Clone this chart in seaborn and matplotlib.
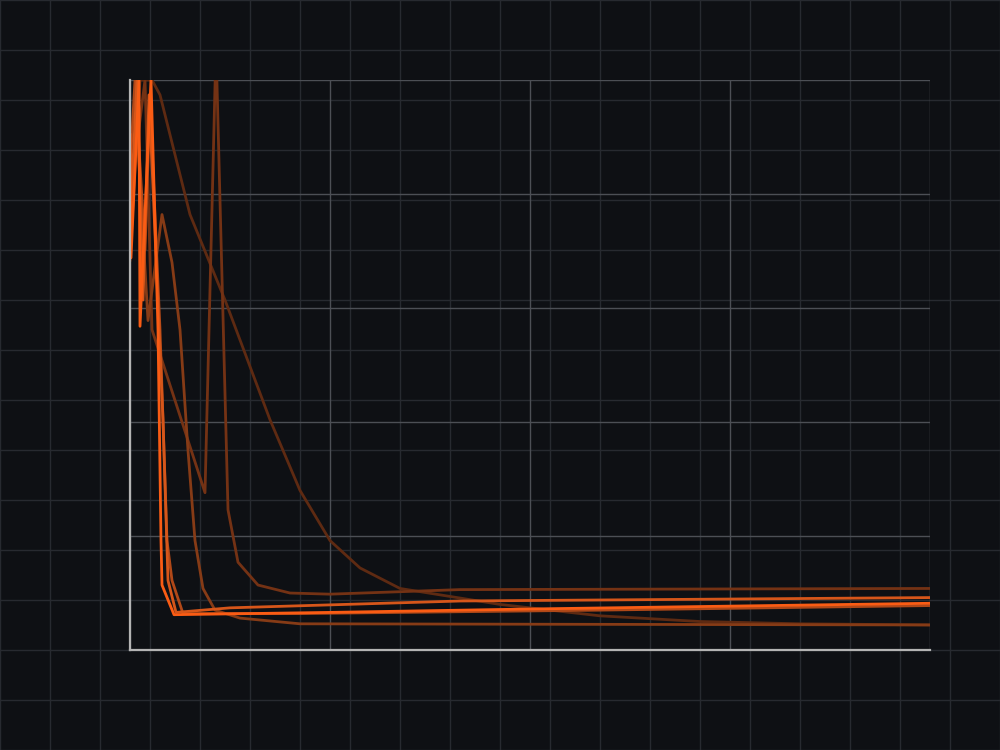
import pandas as pd
import numpy as np
import matplotlib
matplotlib.use("Agg")
import matplotlib.pyplot as plt
import seaborn as sns

# loss curves for six runs (x = epoch, y = loss)
run_a_x = [0, 0.05, 0.45, 0.5, 1.05, 1.4, 1.55, 1.6, 2.2, 10, 20, 30, 40]
run_a_y = [4.52, 3.44, 5.0, 2.84, 5.0, 2.81, 0.96, 0.57, 0.31, 0.33, 0.36, 0.385, 0.41]

run_b_x = [0, 0.35, 0.65, 0.95, 1.65, 1.9, 2.3, 5, 16.5, 40]
run_b_y = [3.73, 5.0, 3.07, 4.87, 2.02, 0.61, 0.33, 0.37, 0.43, 0.46]

run_f_x = [0, 0.25, 0.75, 1.0, 1.5, 1.85, 2.1, 2.65, 8.5, 23.5, 40]
run_f_y = [4.21, 5.0, 3.51, 4.82, 2.81, 0.96, 0.61, 0.32, 0.32, 0.35, 0.39]

run_c_x = [0, 0.35, 0.9, 1.6, 2.1, 2.5, 2.9, 3.25, 3.65, 4.25, 5.5, 8.5, 40]
run_c_y = [3.42, 4.56, 2.89, 3.82, 3.4, 2.81, 1.75, 0.96, 0.54, 0.35, 0.28, 0.23, 0.22]

run_d_x = [0, 0.75, 1.1, 3.75, 4.3, 4.9, 5.4, 6.4, 8, 10, 16.5, 40]
run_d_y = [3.95, 5.0, 2.81, 1.38, 5.3, 1.23, 0.77, 0.57, 0.5, 0.49, 0.53, 0.54]

run_e_x = [0, 0.5, 1.1, 1.5, 3.0, 4.75, 7.0, 8.5, 10, 11.5, 13.5, 18.5, 23.5, 28.5, 33.5, 40]
run_e_y = [3.6, 5.0, 5.0, 4.87, 3.82, 3.07, 2.02, 1.4, 0.96, 0.72, 0.54, 0.4, 0.3, 0.25, 0.23, 0.22]

runs = {
    "e": (run_e_x, run_e_y),
    "d": (run_d_x, run_d_y),
    "c": (run_c_x, run_c_y),
    "f": (run_f_x, run_f_y),
    "b": (run_b_x, run_b_y),
    "a": (run_a_x, run_a_y),
}
colors = {"e": "#5e2a12", "d": "#743214", "c": "#863b16",
          "f": "#b04818", "b": "#d6561a", "a": "#fa5c14"}

rows = []
for name, (xs, ys) in runs.items():
    for x, y in zip(xs, ys):
        rows.append({"run": name, "epoch": x, "loss": y})
df = pd.DataFrame(rows)

bg = "#0e1014"
fig = plt.figure(figsize=(10, 7.5), dpi=100, facecolor=bg)

# faint page grid behind everything
back = fig.add_axes([0, 0, 1, 1], zorder=0)
back.set_facecolor(bg)
back.set_xlim(0, 1000)
back.set_ylim(750, 0)
back.set_xticks(np.arange(0, 1001, 50))
back.set_yticks(np.arange(0, 751, 50))
back.grid(True, color="#272a30", lw=1)
back.tick_params(length=0, labelbottom=False, labelleft=False)
for s in back.spines.values():
    s.set_visible(False)

ax = fig.add_axes([0.13, 0.1333, 0.8, 0.76], zorder=1)
ax.set_facecolor("none")
sns.lineplot(data=df, x="epoch", y="loss", hue="run", palette=colors,
             sort=False, estimator=None, legend=False, lw=2.0, ax=ax)

ax.set_xlim(0, 40)
ax.set_ylim(0, 5)
ax.set_xticks([0, 10, 20, 30, 40])
ax.set_yticks([0, 1, 2, 3, 4, 5])
ax.grid(True, color="#4c4f55", lw=1)
ax.set_axisbelow(True)
ax.tick_params(length=0, labelbottom=False, labelleft=False)
ax.set_xlabel("")
ax.set_ylabel("")
for side in ["top", "right"]:
    ax.spines[side].set_visible(False)
for side in ["left", "bottom"]:
    ax.spines[side].set_color("#b4b4b4")
    ax.spines[side].set_linewidth(1.6)

fig.savefig("out.png", dpi=100, facecolor=bg)
